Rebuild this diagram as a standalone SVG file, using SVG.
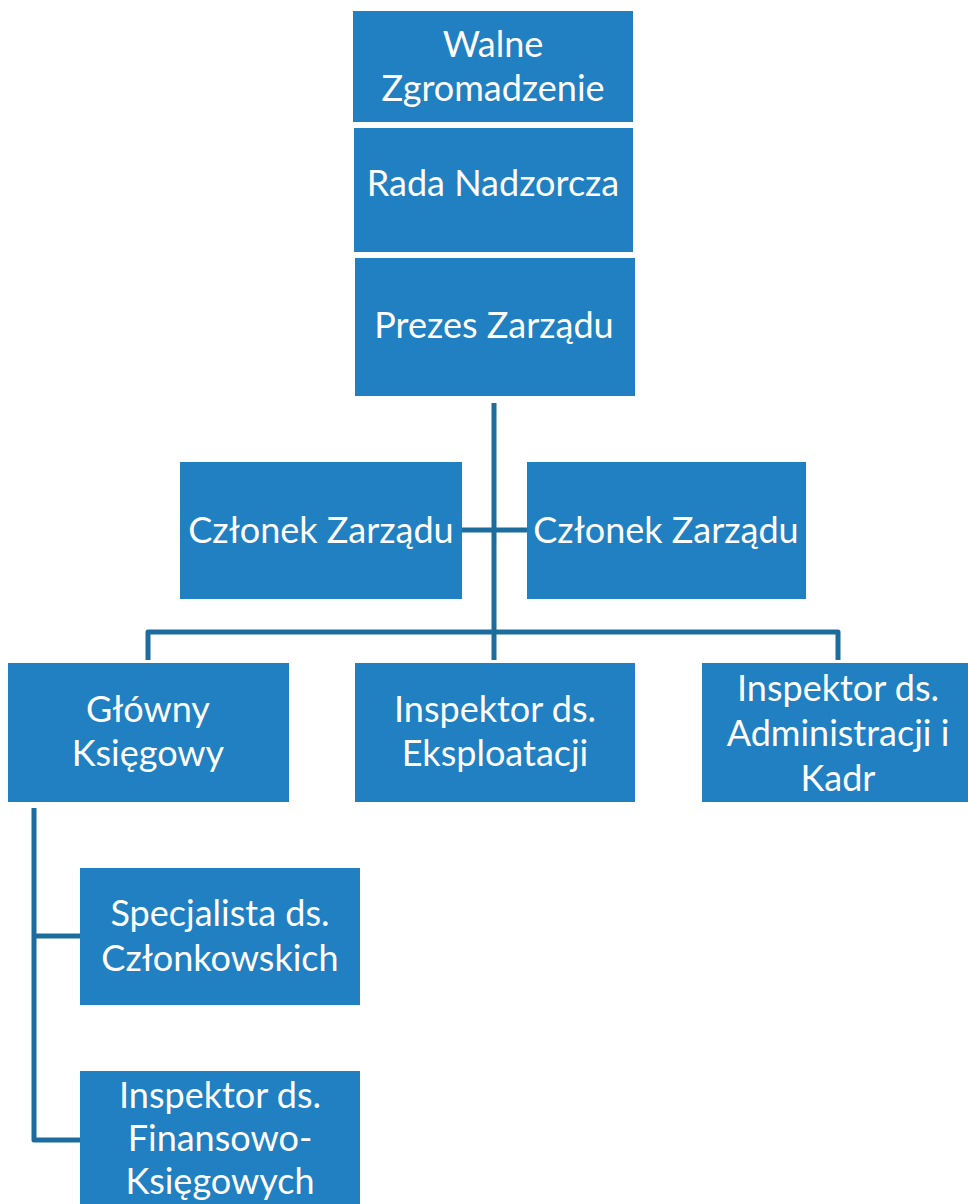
<svg xmlns="http://www.w3.org/2000/svg" width="968" height="1204" viewBox="0 0 968 1204">
<style>
.box{fill:#2080C2}
.t{font-family:Lato,"Open Sans","Liberation Sans",sans-serif;font-size:36px;fill:#ffffff;text-anchor:middle}
.c{fill:none;stroke:#1D6C9E;stroke-width:5;stroke-linejoin:round;stroke-linecap:butt}
</style>
<rect width="968" height="1204" fill="#ffffff"/>
<g id="connectors">
<path class="c" d="M494 403 V660"/>
<path class="c" d="M462 530 H527"/>
<path class="c" d="M148 660 V632 H838 V660"/>
<path class="c" d="M34 808 V1140 H80"/>
<path class="c" d="M34 936 H80"/>
</g>
<g id="walne"><rect class="box" x="353" y="11" width="280" height="111"/><text class="t" x="493" y="57">Walne</text><text class="t" x="493" y="101">Zgromadzenie</text></g>
<g id="rada"><rect class="box" x="354" y="128" width="279" height="124"/><text class="t" x="493" y="196">Rada Nadzorcza</text></g>
<g id="prezes"><rect class="box" x="355" y="258" width="280" height="138"/><text class="t" x="494" y="338">Prezes Zarządu</text></g>
<g id="czlonek1"><rect class="box" x="180" y="462" width="282" height="137"/><text class="t" x="321" y="543">Członek Zarządu</text></g>
<g id="czlonek2"><rect class="box" x="527" y="462" width="279" height="137"/><text class="t" x="666" y="543">Członek Zarządu</text></g>
<g id="glowny"><rect class="box" x="8" y="663" width="281" height="139"/><text class="t" x="148" y="722">Główny</text><text class="t" x="148" y="766">Księgowy</text></g>
<g id="eksploatacja"><rect class="box" x="355" y="663" width="280" height="139"/><text class="t" x="495" y="722">Inspektor ds.</text><text class="t" x="495" y="766">Eksploatacji</text></g>
<g id="administracja"><rect class="box" x="702" y="663" width="272" height="139"/><text class="t" x="838" y="701">Inspektor ds.</text><text class="t" x="838" y="746">Administracji i</text><text class="t" x="838" y="791">Kadr</text></g>
<g id="specjalista"><rect class="box" x="80" y="868" width="280" height="137"/><text class="t" x="220" y="926">Specjalista ds.</text><text class="t" x="220" y="971">Członkowskich</text></g>
<g id="finanse"><rect class="box" x="80" y="1071" width="280" height="140"/><text class="t" x="220" y="1108">Inspektor ds.</text><text class="t" x="220" y="1151">Finansowo-</text><text class="t" x="220" y="1194">Księgowych</text></g>
</svg>
